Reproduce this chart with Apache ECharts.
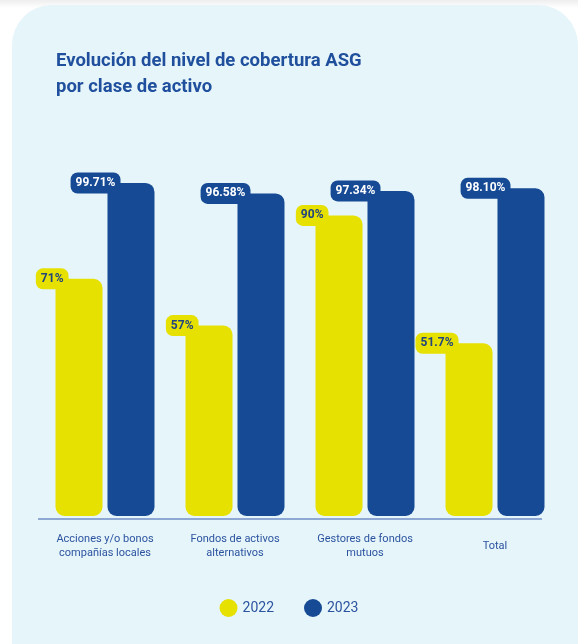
<!DOCTYPE html>
<html><head><meta charset="utf-8">
<script src="https://cdn.jsdelivr.net/npm/echarts@6/dist/echarts.min.js"></script>
<style>html,body{margin:0;padding:0;background:#fff}#c{width:578px;height:644px}</style>
</head><body><div id="c"></div>
<script>
const categories = ['Acciones y/o bonos\ncompañías locales', 'Fondos de activos\nalternativos', 'Gestores de fondos\nmutuos', 'Total'];
const values2022 = [71, 57, 90, 51.7];
const values2023 = [99.71, 96.58, 97.34, 98.10];
const labels2022 = ['71%', '57%', '90%', '51.7%'];
const labels2023 = ['99.71%', '96.58%', '97.34%', '98.10%'];
const seriesNames = ['2022', '2023'];

const YELLOW = '#e6e100';
const BLUE = '#164a95';
const TEXT = '#2c53a0';

const chart = echarts.init(document.getElementById('c'));
function badge(bg, fg, labels) {
  return {
    show: true,
    position: [13, 0],
    align: 'right',
    verticalAlign: 'middle',
    backgroundColor: bg,
    color: fg,
    borderRadius: 7,
    padding: [5, 5, 4, 5],
    fontFamily: 'Roboto',
    fontWeight: 'bold',
    fontSize: 12,
    formatter: p => labels[p.dataIndex]
  };
}
chart.setOption({
  backgroundColor: '#ffffff',
  graphic: [
    { type: 'rect', z: -10, shape: { x: 0, y: 0, width: 578, height: 8 },
      style: { fill: new echarts.graphic.LinearGradient(0, 0, 0, 1, [{offset: 0, color: '#eeeeee'}, {offset: 1, color: '#ffffff'}]) } },
    { type: 'rect', z: -9, shape: { x: 12, y: 5, width: 566, height: 700, r: 40 },
      style: { fill: '#e5f5f9' } },
    { type: 'line', z: 5, shape: { x1: 38, y1: 519, x2: 542, y2: 519 },
      style: { stroke: '#6f8fc6', lineWidth: 1.5 } }
  ],
  title: {
    text: 'Evolución del nivel de cobertura ASG\npor clase de activo',
    left: 51, top: 43,
    textStyle: { fontFamily: 'Roboto', fontWeight: 'bold', fontSize: 18.5, lineHeight: 26, color: '#1f4f9d' }
  },
  legend: {
    data: seriesNames,
    top: 594, left: 'center',
    icon: 'circle', itemWidth: 18, itemHeight: 18, itemGap: 30,
    textStyle: { fontFamily: 'Roboto', fontSize: 14, color: TEXT }
  },
  grid: { left: 40, right: 18, top: 182, bottom: 128 },
  xAxis: {
    type: 'category', data: categories,
    axisLine: { show: false }, axisTick: { show: false },
    axisLabel: { margin: 30, verticalAlign: 'middle', fontFamily: 'Roboto', fontSize: 11, lineHeight: 14, color: TEXT, interval: 0 }
  },
  yAxis: { type: 'value', min: 0, max: 100, show: false, splitLine: { show: false } },
  series: [
    { name: seriesNames[0], type: 'bar', data: values2022, barWidth: 47, barGap: '10.6%',
      itemStyle: { color: YELLOW, borderRadius: 9 },
      label: badge(YELLOW, '#22457f', labels2022) },
    { name: seriesNames[1], type: 'bar', data: values2023, barWidth: 47,
      itemStyle: { color: BLUE, borderRadius: 9 },
      label: badge(BLUE, '#ffffff', labels2023) }
  ]
});
</script></body></html>
